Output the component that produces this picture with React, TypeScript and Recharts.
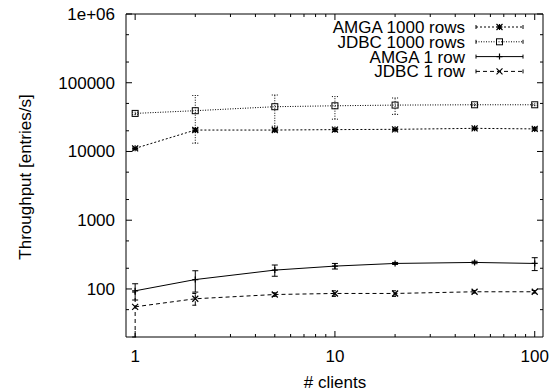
import { LineChart, Line, XAxis, YAxis, ErrorBar, Legend } from "recharts";

// # clients on the x axis, throughput in entries/s
const clients = [1, 2, 5, 10, 20, 50, 100];

const amga1000 = [11100, 20500, 20500, 20800, 21000, 21700, 21300];
const amga1000Err = [500, 1000, 1000, 1000, 900, 900, 900];
const jdbc1000 = [35800, 39200, 44800, 46200, 47300, 47800, 47800];
const jdbc1000Err = [1500, 26000, 21500, 16700, 12700, 1500, 1500];
const amga1 = [94, 137, 188, 215, 235, 243, 235];
const amga1Err = [25, 47, 35, 20, 8, 10, 50];
const jdbc1 = [55, 72, 83, 86, 86, 91, 91];
const jdbc1Err = [35, 14, 5, 8, 8, 4, 4];

const xMajor = [1, 10, 100];
const xMinor = [2, 3, 4, 5, 6, 7, 8, 9, 20, 30, 40, 50, 60, 70, 80, 90];
const yMajor = [100, 1000, 10000, 100000, 1000000];
const yMinor = [50, 200, 500, 2000, 5000, 20000, 50000, 200000, 500000];

const FONT = "'Liberation Sans', Arial, Helvetica, sans-serif";
const INK = "#000";

const data = clients.map((c, i) => ({
  x: c,
  amga1000: amga1000[i],
  amga1000Err: amga1000Err[i],
  jdbc1000: jdbc1000[i],
  jdbc1000Err: jdbc1000Err[i],
  amga1: amga1[i],
  amga1Err: amga1Err[i],
  jdbc1: jdbc1[i],
  jdbc1Err: jdbc1Err[i],
}));

type Marker = "star" | "square" | "plus" | "cross";

const series: { key: string; name: string; dash?: string; marker: Marker }[] = [
  { key: "amga1000", name: "AMGA 1000 rows", dash: "2 2", marker: "star" },
  { key: "jdbc1000", name: "JDBC 1000 rows", dash: "1 1.5", marker: "square" },
  { key: "amga1", name: "AMGA 1 row", marker: "plus" },
  { key: "jdbc1", name: "JDBC 1 row", dash: "4 3", marker: "cross" },
];

function markerShape(m: Marker, cx: number, cy: number, key?: string | number) {
  const r = 3;
  if (m === "square") {
    return (
      <rect key={key} x={cx - r} y={cy - r} width={2 * r} height={2 * r} fill="none" stroke={INK} strokeWidth={1} />
    );
  }
  const plus = `M${cx - r},${cy}H${cx + r}M${cx},${cy - r}V${cy + r}`;
  const cross = `M${cx - r},${cy - r}L${cx + r},${cy + r}M${cx - r},${cy + r}L${cx + r},${cy - r}`;
  const d = m === "plus" ? plus : m === "cross" ? cross : plus + cross;
  return <path key={key} d={d} stroke={INK} strokeWidth={1.2} fill="none" />;
}

const fmtY = (v: number) => (v >= 1000000 ? "1e+06" : String(v));

function XTick({ x, y, payload, side }: any) {
  const v = payload.value;
  const major = xMajor.includes(v);
  const len = major ? 6 : 3;
  const dir = side === "top" ? 1 : -1;
  return (
    <g>
      <line x1={x} y1={y} x2={x} y2={y + dir * len} stroke={INK} strokeWidth={1} />
      {major && side !== "top" && (
        <text x={x} y={y + 25} textAnchor="middle" fontSize={17} fontFamily={FONT} fill={INK}>
          {v}
        </text>
      )}
    </g>
  );
}

function YTick({ x, y, payload, side }: any) {
  const v = payload.value;
  const major = yMajor.includes(v);
  const len = major ? 6 : 3;
  const dir = side === "right" ? -1 : 1;
  return (
    <g>
      <line x1={x} y1={y} x2={x + dir * len} y2={y} stroke={INK} strokeWidth={1} />
      {major && side !== "right" && (
        <text x={x - 11} y={y + 6} textAnchor="end" fontSize={17} fontFamily={FONT} fill={INK}>
          {fmtY(v)}
        </text>
      )}
    </g>
  );
}

function XTitle() {
  return (
    <text x={335} y={388} textAnchor="middle" fontSize={17} fontFamily={FONT} fill={INK}>
      # clients
    </text>
  );
}

function YTitle() {
  return (
    <text
      x={31}
      y={177}
      transform="rotate(-90, 31, 177)"
      textAnchor="middle"
      fontSize={17}
      fontFamily={FONT}
      fill={INK}
    >
      Throughput [entries/s]
    </text>
  );
}

function GnuLegend() {
  return (
    <svg width={250} height={66} style={{ display: "block", overflow: "visible" }}>
      {series.map((s, i) => {
        const cy = 8 + i * 14.8;
        return (
          <g key={s.key}>
            <text x={175} y={cy + 6} textAnchor="end" fontSize={17} fontFamily={FONT} fill={INK}>
              {s.name}
            </text>
            <line x1={186} y1={cy} x2={233} y2={cy} stroke={INK} strokeWidth={1} strokeDasharray={s.dash} />
            <line x1={186} y1={cy - 2} x2={186} y2={cy + 2} stroke={INK} strokeWidth={1} />
            <line x1={233} y1={cy - 2} x2={233} y2={cy + 2} stroke={INK} strokeWidth={1} />
            {markerShape(s.marker, 209.5, cy)}
          </g>
        );
      })}
    </svg>
  );
}

export default function App() {
  const xTicks = [...xMajor, ...xMinor].sort((a, b) => a - b);
  const yTicks = [...yMajor, ...yMinor].sort((a, b) => a - b);

  return (
    <div style={{ position: "fixed", left: 0, top: 0, width: 553, height: 392, background: "#fff" }}>
      <LineChart width={553} height={392} data={data} margin={{ top: 13, right: 9, bottom: 54, left: 125 }}>
        <XAxis
          xAxisId={0}
          dataKey="x"
          type="number"
          scale="log"
          domain={[0.9, 110]}
          allowDataOverflow
          ticks={xTicks}
          interval={0}
          height={1}
          tickSize={0}
          tickMargin={0}
          tick={<XTick side="bottom" />}
          axisLine={{ stroke: INK, strokeWidth: 1 }}
          label={<XTitle />}
        />
        <XAxis
          xAxisId="top"
          orientation="top"
          dataKey="x"
          type="number"
          scale="log"
          domain={[0.9, 110]}
          allowDataOverflow
          ticks={xTicks}
          interval={0}
          height={1}
          tickSize={0}
          tickMargin={0}
          tick={<XTick side="top" />}
          axisLine={{ stroke: INK, strokeWidth: 1 }}
        />
        <YAxis
          yAxisId={0}
          type="number"
          scale="log"
          domain={[20, 1000000]}
          allowDataOverflow
          ticks={yTicks}
          interval={0}
          width={1}
          tickSize={0}
          tickMargin={0}
          tick={<YTick side="left" />}
          axisLine={{ stroke: INK, strokeWidth: 1 }}
          label={<YTitle />}
        />
        <YAxis
          yAxisId="right"
          orientation="right"
          type="number"
          scale="log"
          domain={[20, 1000000]}
          allowDataOverflow
          ticks={yTicks}
          interval={0}
          width={1}
          tickSize={0}
          tickMargin={0}
          tick={<YTick side="right" />}
          axisLine={{ stroke: INK, strokeWidth: 1 }}
        />
        <Legend
          layout="vertical"
          align="center"
          verticalAlign="middle"
          content={() => <GnuLegend />}
          wrapperStyle={{ left: 290, top: 19, width: 250, height: 66 }}
        />
        {series.map((s) => (
          <Line
            key={s.key}
            dataKey={s.key}
            name={s.name}
            type="linear"
            stroke={INK}
            strokeWidth={1}
            strokeDasharray={s.dash}
            isAnimationActive={false}
            dot={(p: any) => markerShape(s.marker, p.cx, p.cy, p.index)}
            activeDot={false}
          >
            <ErrorBar
              dataKey={s.key + "Err"}
              direction="y"
              width={3}
              stroke={INK}
              strokeWidth={1}
              strokeDasharray={s.dash}
              isAnimationActive={false}
            />
          </Line>
        ))}
      </LineChart>
    </div>
  );
}
